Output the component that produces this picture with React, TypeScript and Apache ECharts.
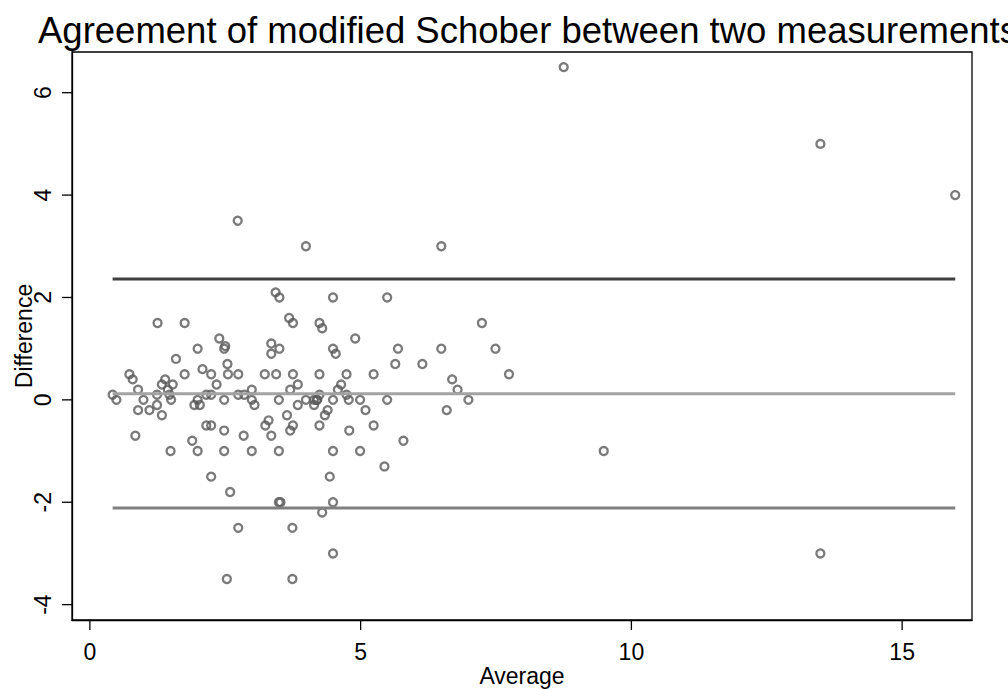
import React, { useEffect, useRef } from "react";
import * as echarts from "echarts";

// Average of the two measurements
const averageValues: number[] = [
  0.42, 0.49, 0.73, 0.79, 0.89, 0.99, 0.89, 1.1, 0.84, 1.24,
  1.24, 1.33, 1.39, 1.33, 1.53, 1.44, 1.47, 1.5, 1.25, 1.75,
  1.59, 1.75, 1.49, 1.99, 2.08, 2.24, 2.15, 2.24, 1.99, 1.93,
  2.03, 2.15, 2.24, 1.89, 1.99, 2.24, 2.34, 2.39, 2.48, 2.5,
  2.54, 2.55, 2.48, 2.48, 2.48, 2.59, 2.53, 2.74, 2.74, 2.85,
  2.84, 2.74, 2.73, 2.99, 2.99, 3.04, 2.99, 3.23, 3.24, 3.3,
  3.35, 3.35, 3.35, 3.44, 3.43, 3.5, 3.5, 3.49, 3.49, 3.49,
  3.52, 3.68, 3.75, 3.75, 3.7, 3.84, 3.84, 3.64, 3.75, 3.7,
  3.74, 3.74, 3.99, 3.99, 4.14, 4.19, 4.24, 4.24, 4.29, 4.24,
  4.24, 4.34, 4.39, 4.29, 4.49, 4.49, 4.54, 4.49, 4.49, 4.43,
  4.49, 4.49, 4.58, 4.64, 4.74, 4.74, 4.78, 4.79, 4.9, 4.99,
  4.99, 5.09, 5.24, 5.24, 5.49, 5.49, 5.44, 5.64, 5.69, 5.79,
  6.14, 6.49, 6.49, 6.59, 6.69, 6.79, 6.99, 7.24, 7.49, 7.74,
  8.75, 9.49, 13.49, 13.49, 15.98, 4.14, 4.2,
];

// Difference between the two measurements
const differenceValues: number[] = [
  0.1, 0.0, 0.5, 0.4, 0.2, 0.0, -0.2, -0.2, -0.7, 0.1,
  -0.1, -0.3, 0.4, 0.3, 0.3, 0.2, 0.1, 0.0, 1.5, 1.5,
  0.8, 0.5, -1.0, 1.0, 0.6, 0.5, 0.1, 0.1, 0.0, -0.1,
  -0.1, -0.5, -0.5, -0.8, -1.0, -1.5, 0.3, 1.2, 1.0, 1.05,
  0.7, 0.5, 0.0, -0.6, -1.0, -1.8, -3.5, 0.5, 0.1, 0.1,
  -0.7, -2.5, 3.5, 0.2, 0.0, -0.1, -1.0, 0.5, -0.5, -0.4,
  -0.7, 1.1, 0.9, 0.5, 2.1, 2.0, 1.0, 0.0, -1.0, -2.0,
  -2.0, 1.6, 1.5, 0.5, 0.2, 0.3, -0.1, -0.3, -0.5, -0.6,
  -2.5, -3.5, 3.0, 0.0, -0.1, 0.0, 0.1, 1.5, 1.4, 0.5,
  -0.5, -0.3, -0.2, -2.2, 2.0, 1.0, 0.9, 0.0, -1.0, -1.5,
  -2.0, -3.0, 0.2, 0.3, 0.5, 0.1, 0.0, -0.6, 1.2, 0.0,
  -1.0, -0.2, 0.5, -0.5, 2.0, 0.0, -1.3, 0.7, 1.0, -0.8,
  0.7, 3.0, 1.0, -0.2, 0.4, 0.2, 0.0, 1.5, 1.0, 0.5,
  6.5, -1.0, 5.0, -3.0, 4.0, 0.0, 0.0,
];

// Mean difference and limits of agreement
const upperLimit = 2.36;
const meanDifference = 0.12;
const lowerLimit = -2.11;

const xTickValues: number[] = [0, 5, 10, 15];
const yTickValues: number[] = [-4, -2, 0, 2, 4, 6];

const FONT = "'Liberation Sans', Arial, Helvetica, sans-serif";

const GRID_LEFT = 72;
const GRID_TOP = 52;
const GRID_RIGHT = 36;
const GRID_BOTTOM = 69;
const CHART_H = 689;
const TICK_LEN = 10;

export default function App() {
  const ref = useRef<HTMLDivElement>(null);

  useEffect(() => {
    if (!ref.current) return;
    const chart = echarts.init(ref.current, undefined, { renderer: "svg" });

    const points = averageValues.map((a, i) => [a, differenceValues[i]]);
    const xMin = Math.min(...averageValues);
    const xMax = Math.max(...averageValues);
    const hLine = (v: number) => [
      [xMin, v],
      [xMax, v],
    ];

    const axisLine = {
      show: true,
      onZero: false,
      lineStyle: { color: "#000", width: 1.3 },
    };

    chart.setOption({
      animation: false,
      backgroundColor: "#ffffff",
      textStyle: { fontFamily: FONT },
      title: {
        text: "Agreement of modified Schober between two measurements",
        left: 33,
        top: 7,
        textStyle: {
          fontSize: 36.5,
          fontWeight: "normal",
          color: "#000",
          fontFamily: FONT,
        },
      },
      grid: {
        left: GRID_LEFT,
        top: GRID_TOP,
        right: GRID_RIGHT,
        bottom: GRID_BOTTOM,
        show: true,
        borderColor: "#000",
        borderWidth: 1.3,
        containLabel: false,
        outerBoundsMode: "none",
      },
      xAxis: {
        type: "value",
        min: -0.33,
        max: 16.29,
        name: "Average",
        nameLocation: "middle",
        nameGap: 44,
        nameMoveOverlap: false,
        nameTextStyle: { fontSize: 23, color: "#000", fontFamily: FONT },
        axisLine,
        axisTick: { show: false },
        axisLabel: {
          customValues: xTickValues,
          fontSize: 23,
          color: "#000",
          margin: 20,
          fontFamily: FONT,
        },
        splitLine: { show: false },
      },
      yAxis: {
        type: "value",
        min: -4.3,
        max: 6.795,
        name: "Difference",
        nameLocation: "middle",
        nameGap: 37,
        nameRotate: 90,
        nameMoveOverlap: false,
        nameTextStyle: { fontSize: 23, color: "#000", fontFamily: FONT },
        axisLine,
        axisTick: { show: false },
        axisLabel: {
          customValues: yTickValues,
          rotate: 90,
          fontSize: 23,
          color: "#000",
          margin: 18,
          fontFamily: FONT,
        },
        splitLine: { show: false },
      },
      series: [
        {
          type: "scatter",
          data: points,
          symbol: "circle",
          symbolSize: 8,
          itemStyle: {
            color: "rgba(0,0,0,0)",
            borderColor: "#595959",
            borderWidth: 2.3,
          },
          z: 2,
        },
        {
          type: "line",
          data: hLine(upperLimit),
          showSymbol: false,
          lineStyle: { color: "#3f3f3f", width: 3 },
          z: 3,
        },
        {
          type: "line",
          data: hLine(meanDifference),
          showSymbol: false,
          lineStyle: { color: "#a3a3a3", width: 3 },
          z: 3,
        },
        {
          type: "line",
          data: hLine(lowerLimit),
          showSymbol: false,
          lineStyle: { color: "#808080", width: 3 },
          z: 3,
        },
      ],
    });

    // Tick marks placed through the axes' own scales
    const bottomY = CHART_H - GRID_BOTTOM;
    const tickStyle = { stroke: "#000", lineWidth: 1.3 };
    const xTicks = xTickValues.map((v) => {
      const px = chart.convertToPixel({ xAxisIndex: 0 }, v) as number;
      return {
        type: "line",
        shape: { x1: px, y1: bottomY, x2: px, y2: bottomY + TICK_LEN },
        style: tickStyle,
        silent: true,
      };
    });
    const yTicks = yTickValues.map((v) => {
      const py = chart.convertToPixel({ yAxisIndex: 0 }, v) as number;
      return {
        type: "line",
        shape: { x1: GRID_LEFT - TICK_LEN, y1: py, x2: GRID_LEFT, y2: py },
        style: tickStyle,
        silent: true,
      };
    });
    chart.setOption({ graphic: [...xTicks, ...yTicks] });

    return () => chart.dispose();
  }, []);

  return (
    <div
      ref={ref}
      style={{ position: "absolute", left: 0, top: 0, width: 1008, height: 689 }}
    />
  );
}
